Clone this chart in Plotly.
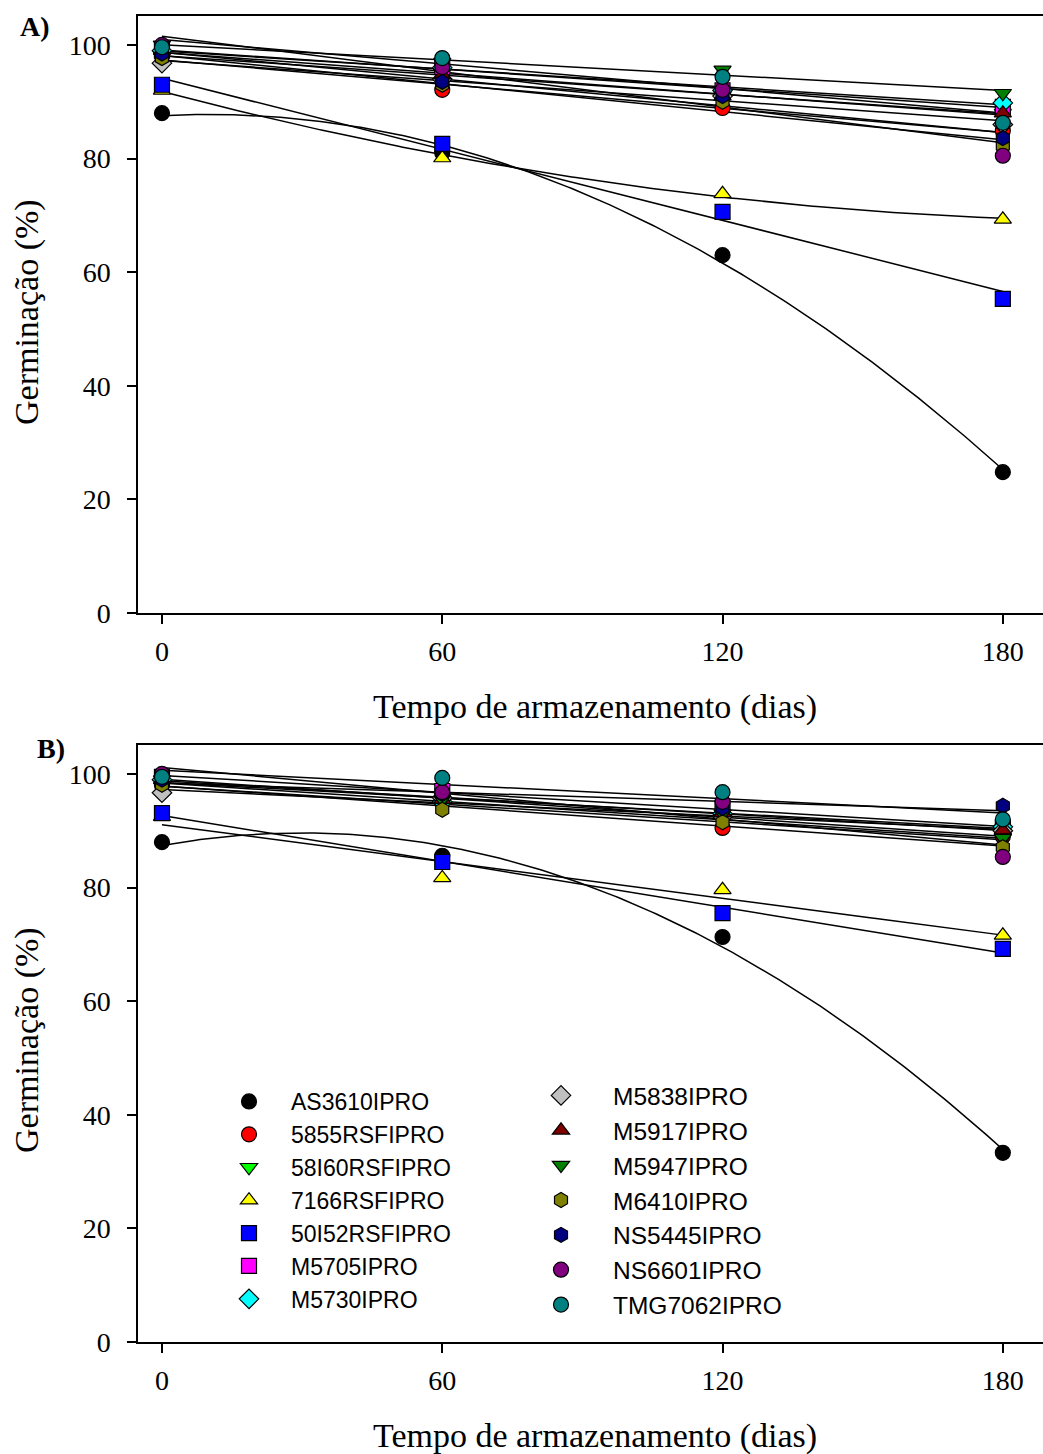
import numpy as np
import plotly.graph_objects as go

days = [0, 60, 120, 180]
cultivars = ["AS3610IPRO", "5855RSFIPRO", "58I60RSFIPRO", "7166RSFIPRO", "50I52RSFIPRO",
             "M5705IPRO", "M5730IPRO", "M5838IPRO", "M5917IPRO", "M5947IPRO",
             "M6410IPRO", "NS5445IPRO", "NS6601IPRO", "TMG7062IPRO"]

# Panel A values (germination %)
A_AS3610 = [88.0, 81.0, 63.0, 24.8]
A_5855 = [98.0, 92.1, 88.9, 84.9]
A_58I60 = [98.0, 95.0, 91.0, 88.0]
A_7166 = [92.0, 80.1, 73.8, 69.3]
A_50I52 = [93.0, 82.6, 70.6, 55.3]
A_M5705 = [99.0, 96.1, 92.0, 89.1]
A_M5730 = [99.0, 96.0, 92.0, 89.8]
A_M5838 = [96.8, 94.0, 91.0, 86.0]
A_M5917 = [99.0, 94.7, 91.0, 88.0]
A_M5947 = [100.0, 97.0, 95.6, 91.5]
A_M6410 = [97.7, 93.0, 90.0, 82.2]
A_NS5445 = [98.5, 93.5, 91.0, 83.6]
A_NS6601 = [100.0, 96.1, 92.1, 80.5]
A_TMG7062 = [99.6, 97.7, 94.4, 86.3]

# Panel B values (germination %)
B_AS3610 = [88.0, 85.6, 71.3, 33.3]
B_5855 = [98.0, 95.0, 90.5, 89.0]
B_58I60 = [98.5, 95.0, 92.0, 88.7]
B_7166 = [92.5, 81.7, 79.6, 71.6]
B_50I52 = [93.1, 84.5, 75.5, 69.2]
B_M5705 = [99.5, 97.0, 94.0, 90.5]
B_M5730 = [99.0, 95.1, 93.0, 90.7]
B_M5838 = [96.7, 95.8, 92.5, 90.0]
B_M5917 = [99.0, 95.5, 93.1, 90.1]
B_M5947 = [99.0, 95.5, 93.0, 88.7]
B_M6410 = [98.1, 93.7, 91.5, 87.1]
B_NS5445 = [99.0, 96.5, 94.0, 94.4]
B_NS6601 = [100.0, 96.8, 95.1, 85.4]
B_TMG7062 = [99.5, 99.3, 96.8, 92.0]

panelA = [A_AS3610, A_5855, A_58I60, A_7166, A_50I52, A_M5705, A_M5730, A_M5838,
          A_M5917, A_M5947, A_M6410, A_NS5445, A_NS6601, A_TMG7062]
panelB = [B_AS3610, B_5855, B_58I60, B_7166, B_50I52, B_M5705, B_M5730, B_M5838,
          B_M5917, B_M5947, B_M6410, B_NS5445, B_NS6601, B_TMG7062]

# regression degree per cultivar (quadratic where the curve bends)
degA = [2, 1, 1, 2, 1, 1, 1, 1, 1, 1, 1, 1, 1, 1]
degB = [2, 1, 1, 1, 1, 1, 1, 1, 1, 1, 1, 1, 1, 1]

symbols = ["circle", "circle", "triangle-down", "triangle-up", "square", "square", "diamond",
           "diamond", "triangle-up", "triangle-down", "hexagon", "hexagon", "circle", "circle"]
colors = ["#000000", "#ff0000", "#00ff00", "#ffff00", "#0000ff", "#ff00ff", "#00ffff",
          "#c0c0c0", "#800000", "#008000", "#808000", "#000080", "#800080", "#008080"]

W, H = 1043, 1454
fig = go.Figure()

def add_panel(data, degs, xa, ya, legend_on):
    xs = np.linspace(0, 180, 200)
    for vals, d in zip(data, degs):
        coef = np.polyfit(days, vals, d)
        fig.add_trace(go.Scatter(x=xs, y=np.polyval(coef, xs), mode="lines",
                                 line=dict(color="black", width=1.5),
                                 xaxis=xa, yaxis=ya, showlegend=False, hoverinfo="skip"))
    for i, vals in enumerate(data):
        kw = {}
        if legend_on:
            kw["legend"] = "legend" if i < 7 else "legend2"
        fig.add_trace(go.Scatter(x=days, y=vals, mode="markers", name=cultivars[i],
                                 marker=dict(symbol=symbols[i], color=colors[i], size=15,
                                             line=dict(color="black", width=1.2)),
                                 xaxis=xa, yaxis=ya, showlegend=legend_on, **kw))

add_panel(panelA, degA, "x", "y", False)
add_panel(panelB, degB, "x2", "y2", True)

def py(p):
    return 1 - p / H

xdom = [138 / W, 1.0]
tickfont = dict(family="Liberation Serif", size=28, color="black")
axis_common = dict(showline=True, linecolor="black", linewidth=1.5, ticks="outside",
                   ticklen=9, tickwidth=1.5, tickcolor="black", showgrid=False,
                   zeroline=False, tickfont=tickfont, automargin=False)
xr = [-5.13, 188.6]
yr = [0, 105.1]
fig.update_layout(
    width=W, height=H, margin=dict(l=0, r=0, t=0, b=0),
    paper_bgcolor="white", plot_bgcolor="white",
    xaxis=dict(domain=xdom, range=xr, tickvals=days, anchor="y", mirror=True,
               ticklabelstandoff=4, **axis_common),
    yaxis=dict(domain=[py(613), py(16)], range=yr, tickvals=[0, 20, 40, 60, 80, 100],
               anchor="x", ticklabelstandoff=11, **axis_common),
    xaxis2=dict(domain=xdom, range=xr, tickvals=days, anchor="y2", mirror=True,
                ticklabelstandoff=4, **axis_common),
    yaxis2=dict(domain=[py(1342), py(745)], range=yr, tickvals=[0, 20, 40, 60, 80, 100],
                anchor="x2", ticklabelstandoff=11, **axis_common),
    legend=dict(x=207 / W, y=py(1080), xanchor="left", yanchor="top",
                bgcolor="rgba(0,0,0,0)", font=dict(family="Liberation Sans", size=23, color="black"),
                itemwidth=74),
    legend2=dict(x=509 / W, y=py(1073), xanchor="left", yanchor="top",
                 bgcolor="rgba(0,0,0,0)", font=dict(family="Liberation Sans", size=24.5, color="black"),
                 itemwidth=94),
    showlegend=True,
)

title_font = dict(family="Liberation Serif", size=34, color="black")
ann = []
for yc in [707, 1436]:
    ann.append(dict(text="Tempo de armazenamento (dias)", x=595 / W, y=py(yc), xref="paper",
                    yref="paper", showarrow=False, font=title_font, xanchor="center", yanchor="middle"))
for yc in [312, 1040]:
    ann.append(dict(text="Germinação (%)", x=27 / W, y=py(yc), xref="paper", yref="paper",
                    showarrow=False, font=title_font, textangle=-90, xanchor="center", yanchor="middle"))
ann.append(dict(text="<b>A)</b>", x=18 / W, y=py(26), xref="paper", yref="paper", showarrow=False,
                font=dict(family="Liberation Serif", size=28, color="black"), xanchor="left", yanchor="middle"))
ann.append(dict(text="<b>B)</b>", x=35 / W, y=py(748), xref="paper", yref="paper", showarrow=False,
                font=dict(family="Liberation Serif", size=28, color="black"), xanchor="left", yanchor="middle"))
fig.update_layout(annotations=ann)

fig.write_html("out.html", config={"displayModeBar": False},
               post_script="document.body.style.margin='0';document.body.style.overflow='hidden';")
